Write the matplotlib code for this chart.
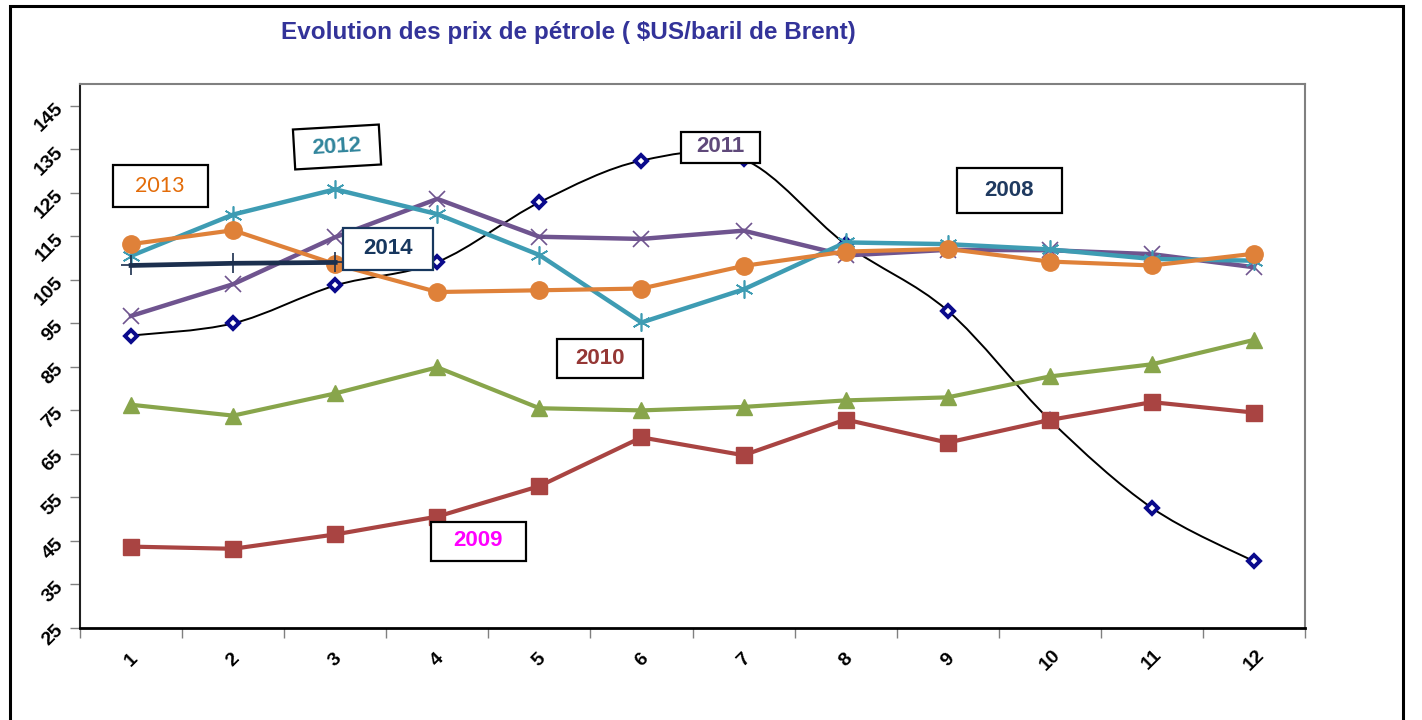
import numpy as np
import matplotlib.pyplot as plt
from matplotlib.patches import Rectangle
from matplotlib.path import Path
from matplotlib.patches import PathPatch

# Monthly Brent prices ($US/baril)
months = list(range(1, 13))
p2008 = [92.2, 95.0, 103.7, 109.1, 122.8, 132.4, 132.7, 113.2, 97.9, 72.8, 52.6, 40.3]
p2009 = [43.7, 43.2, 46.5, 50.6, 57.6, 68.8, 64.7, 72.9, 67.6, 72.8, 76.9, 74.5]
p2010 = [76.3, 73.8, 78.9, 84.9, 75.5, 75.0, 75.8, 77.3, 78.0, 82.8, 85.6, 91.2]
p2011 = [96.7, 104.0, 114.8, 123.6, 114.9, 114.4, 116.3, 110.6, 111.9, 111.8, 110.9, 107.9]
p2012 = [110.5, 120.0, 125.8, 120.1, 110.7, 95.2, 102.8, 113.6, 113.2, 112.0, 109.8, 109.4]
p2013 = [113.2, 116.4, 108.6, 102.2, 102.6, 103.0, 108.2, 111.5, 112.1, 109.2, 108.3, 111.0]
months_2014 = [1, 2, 3]
p2014 = [108.3, 108.8, 109.0]

yticks = list(range(25, 150, 10))

W, H = 1422, 720
plt.rcParams['font.family'] = ['Liberation Sans', 'DejaVu Sans']
fig = plt.figure(figsize=(W / 100, H / 100), dpi=100)
ax = fig.add_axes([80 / W, (H - 628) / H, (1305 - 80) / W, (628 - 84) / H])


def smooth_path(xs, ys):
    # Excel-like smoothed line: cubic Bezier segments through the data points
    pts = np.column_stack([xs, ys]).astype(float)
    n = len(pts)
    verts = [tuple(pts[0])]
    codes = [Path.MOVETO]
    for i in range(n - 1):
        p0 = pts[i - 1] if i > 0 else pts[i]
        p3 = pts[i + 2] if i + 2 < n else pts[i + 1]
        c1 = pts[i] + (pts[i + 1] - p0) / 6.0
        c2 = pts[i + 1] - (p3 - pts[i]) / 6.0
        verts += [tuple(c1), tuple(c2), tuple(pts[i + 1])]
        codes += [Path.CURVE4] * 3
    return Path(verts, codes)


# 2008: smoothed black line with navy diamonds
ax.add_patch(PathPatch(smooth_path(months, p2008), fill=False, edgecolor='black',
                       lw=1.4, zorder=2))
ax.plot(months, p2008, ls='none', marker='D', ms=6.5, mfc='white', mec='#0A0A8C',
        mew=2.8, zorder=3)

ax.plot(months, p2009, color='#A94442', lw=3, marker='s', ms=11, zorder=4)
ax.plot(months, p2010, color='#88A54B', lw=3, marker='^', ms=12, zorder=4)
ax.plot(months, p2011, color='#6F548F', lw=3.2, marker='x', ms=12, mew=1.2, zorder=4)
ax.plot(months, p2012, color='#3E9CB3', lw=3.2, marker=(6, 2, 0), ms=13, mew=1.2, zorder=5)
ax.plot(months, p2013, color='#DF8139', lw=3, marker='o', ms=12.5, zorder=6)
ax.plot(months_2014, p2014, color='#1B2F4E', lw=3.4, marker='+', ms=14, mew=1.2, zorder=7)

ax.set_xlim(0.5, 12.5)
ax.set_ylim(25, 150)
ax.set_yticks(yticks)
ax.set_yticklabels([str(v) for v in yticks], rotation=45, fontweight='bold',
                   ha='right', va='center', rotation_mode='anchor')
ax.set_xticks(months)
ax.set_xticklabels([str(m) for m in months], rotation=45, fontweight='bold',
                   ha='center', va='center')
ax.set_xticks(np.arange(0.5, 13, 1), minor=True)
ax.tick_params(axis='both', which='major', labelsize=14)
ax.tick_params(axis='x', which='major', length=0, pad=23)
ax.tick_params(axis='x', which='minor', length=7, color='#808080', width=1)
ax.tick_params(axis='y', which='major', length=7, color='#808080', width=1, pad=7)
ax.tick_params(axis='y', which='minor', length=0)

for side in ['top', 'right']:
    ax.spines[side].set_color('#808080')
    ax.spines[side].set_linewidth(1.5)
ax.spines['left'].set_color('#202020')
ax.spines['left'].set_linewidth(1.5)
ax.spines['bottom'].set_color('black')
ax.spines['bottom'].set_linewidth(2)

fig.text(568 / W, 1 - 32 / H, 'Evolution des prix de pétrole ( $US/baril de Brent)',
         ha='center', va='center', fontsize=17.5, fontweight='bold', color='#333399')

# outer chart frame
fig.add_artist(Rectangle((10 / 100, -10 / 100), (1403 - 10) / 100, (H - 6 + 10) / 100,
                         transform=fig.dpi_scale_trans, fill=False, edgecolor='black',
                         lw=2.2, zorder=1))


def label_box(cx, cy, w, h, text, color, edge='black', bold=True, angle=0.0,
              family=None, size=16):
    # (cx, cy) given in image pixels from the top-left corner
    x0 = (cx - w / 2) / 100
    y0 = (H - cy - h / 2) / 100
    fig.add_artist(Rectangle((x0, y0), w / 100, h / 100, angle=angle,
                             rotation_point='center', transform=fig.dpi_scale_trans,
                             facecolor='white', edgecolor=edge, lw=1.6, zorder=10))
    kw = {}
    if family:
        kw['family'] = family
    fig.text(cx / 100, (H - cy) / 100, text, transform=fig.dpi_scale_trans,
             ha='center', va='center', fontsize=size, color=color,
             fontweight='bold' if bold else 'normal', rotation=angle, zorder=11, **kw)


label_box(160, 186, 95, 42, '2013', '#E36C09', bold=False, family=['Lato', 'DejaVu Sans'], size=15.5)
label_box(337, 147, 86, 40, '2012', '#31859C', angle=3.3)
label_box(388, 249, 90, 42, '2014', '#17375E', edge='#17375E')
label_box(720, 147, 79, 31, '2011', '#5F497A')
label_box(1009, 190, 105, 45, '2008', '#1F3A60')
label_box(600, 358, 86, 39, '2010', '#953735')
label_box(478, 541, 95, 39, '2009', '#FF00FF')

fig.savefig('out.png', dpi=100)
